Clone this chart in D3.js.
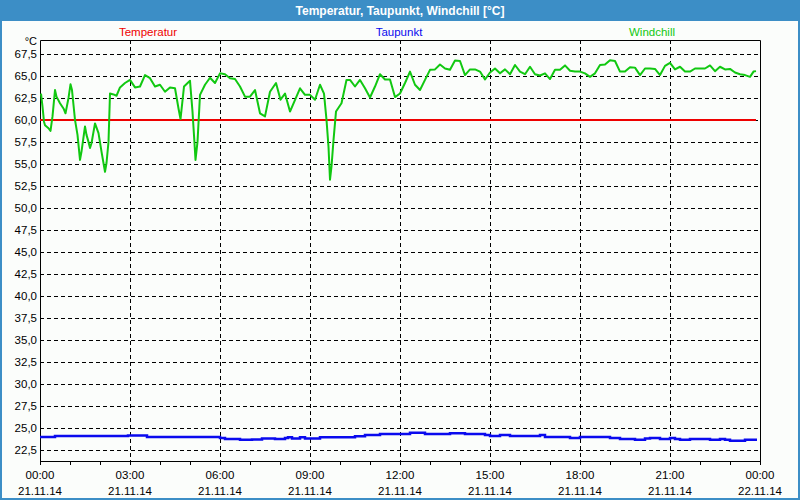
<!DOCTYPE html>
<html><head><meta charset="utf-8">
<script src="https://cdn.jsdelivr.net/npm/d3@7/dist/d3.min.js"></script>
<style>body{margin:0;background:#fff;}svg{display:block;}</style>
</head><body>
<svg id="c" width="800" height="500"></svg>
<script>
const title = "Temperatur, Taupunkt, Windchill [°C]";
const seriesNames = ["Temperatur", "Taupunkt", "Windchill"];
const seriesColors = ["#ee0000", "#0a0aee", "#11c811"];
const yTicks = [22.5,25,27.5,30,32.5,35,37.5,40,42.5,45,47.5,50,52.5,55,57.5,60,62.5,65,67.5];
const xTickHours = [0,3,6,9,12,15,18,21,24];
const xTickTimes = ["00:00","03:00","06:00","09:00","12:00","15:00","18:00","21:00","00:00"];
const xTickDates = ["21.11.14","21.11.14","21.11.14","21.11.14","21.11.14","21.11.14","21.11.14","21.11.14","22.11.14"];

// minutes since 21.11.14 00:00
const tempMinutes = [0, 360, 720, 1080, 1432];
const tempValues  = [60, 60, 60, 60, 60];

const dewMinutes = [0,30,176,214,360,370,400,424,444,470,490,496,504,520,530,560,630,650,680,740,770,820,850,890,900,920,940,1000,1010,1060,1080,1140,1160,1190,1210,1220,1240,1260,1270,1280,1300,1340,1360,1370,1380,1410,1434];
const dewValues  = [23.93,24.05,24.1,23.93,23.8,23.7,23.6,23.65,23.75,23.7,23.8,23.9,23.75,23.9,23.75,23.9,24.0,24.15,24.27,24.4,24.27,24.35,24.27,24.15,24.05,24.15,24.05,24.15,23.93,23.8,23.93,23.8,23.7,23.6,23.75,23.8,23.7,23.8,23.7,23.6,23.7,23.6,23.7,23.6,23.5,23.6,23.6];

const windMinutes = [2,5,8,10,17,21,25,30,33,40,47,51,57,61,64,67,70,75,80,83,90,93,97,100,103,110,117,123,130,133,137,140,147,153,160,170,180,190,200,210,220,230,240,250,260,270,277,281,288,300,305,309,311,315,320,330,340,350,360,370,380,390,400,410,420,430,440,450,460,472,481,490,500,520,530,540,550,560,568,573,577,580,583,587,592,603,613,620,630,640,650,660,670,680,690,700,710,720,730,740,750,760,770,780,790,800,810,820,830,840,850,860,870,880,890,900,910,920,930,940,950,960,970,980,990,1000,1010,1020,1030,1040,1050,1060,1070,1080,1090,1100,1110,1120,1130,1140,1150,1160,1170,1180,1190,1200,1210,1220,1230,1240,1250,1260,1270,1280,1290,1300,1310,1320,1330,1340,1350,1360,1370,1380,1390,1400,1410,1420,1427,1432];
const windValues  = [63.0,61.5,59.8,59.4,59.05,58.75,60.4,63.4,62.65,61.9,61.3,60.75,62.5,64.05,63.4,61.7,60.0,58.3,55.45,56.4,59.25,58.3,57.5,56.8,57.35,59.6,58.5,56.4,54.1,55.1,57.5,63.0,62.9,62.75,63.7,64.2,64.55,63.7,63.8,65.1,64.75,63.8,64.0,63.2,63.7,63.6,61.3,60.1,63.8,64.45,60.95,57.35,55.45,57.5,62.85,64.0,64.8,64.2,65.3,65.2,64.75,64.65,63.8,62.65,62.65,63.4,60.75,60.4,63.2,64.2,62.3,63.0,60.95,63.6,62.85,62.85,62.3,64.0,63.0,60.0,56.95,53.2,54.7,57.7,60.95,61.9,64.55,64.55,63.8,64.55,63.6,62.55,63.8,65.2,64.6,64.6,62.6,63.0,64.2,65.5,64.0,63.4,64.55,65.7,65.75,66.3,65.85,65.7,66.75,66.7,65.1,65.75,65.75,65.5,64.6,65.4,65.85,65.3,65.75,65.2,66.25,65.5,65.2,66.05,65.2,65.05,65.3,64.65,65.7,65.7,66.2,65.6,65.5,65.5,65.3,64.9,65.3,66.25,66.3,66.8,66.7,65.5,65.5,66.0,65.95,65.1,65.85,65.85,65.8,65.1,66.15,66.5,65.75,66.05,65.5,65.5,65.85,65.85,65.85,66.2,65.55,66.05,65.75,65.8,65.4,65.2,65.1,64.9,65.5,65.55];

const svg = d3.select("#c");
const W = 800, H = 500;
const L = 40, R = 760, T = 40, B = 461;
const font = "'Liberation Sans', Arial, sans-serif";

svg.append("rect").attr("width", W).attr("height", H).attr("fill", "#3c8ec6");
svg.append("rect").attr("x", 2).attr("y", 21).attr("width", W - 4).attr("height", H - 23).attr("fill", "#fbfdfb");
svg.append("text").attr("x", 400).attr("y", 15).attr("text-anchor", "middle")
  .attr("fill", "#fff").attr("font-family", font).attr("font-size", 12).attr("font-weight", "bold").text(title);

const x = d3.scaleLinear().domain([0, 1440]).range([L, R]);
const y = d3.scaleLinear().domain([22.5, 67.5]).range([449.5, 54]);

// legend
const legendX = [148, 399, 652];
seriesNames.forEach((n, i) => {
  svg.append("text").attr("x", legendX[i]).attr("y", 36).attr("text-anchor", "middle")
    .attr("fill", seriesColors[i]).attr("font-family", font).attr("font-size", 11.5).text(n);
});

// grid
const g = svg.append("g");
g.selectAll("line.h").data(yTicks).enter().append("line")
  .attr("x1", L).attr("x2", R).attr("y1", d => Math.round(y(d)) + 0.5).attr("y2", d => Math.round(y(d)) + 0.5)
  .attr("stroke", "#000").attr("stroke-dasharray", "4,3").attr("stroke-width", 1);
g.selectAll("line.v").data(xTickHours.slice(1, -1)).enter().append("line")
  .attr("y1", T).attr("y2", B).attr("x1", d => Math.round(x(d * 60)) + 0.5).attr("x2", d => Math.round(x(d * 60)) + 0.5)
  .attr("stroke", "#000").attr("stroke-dasharray", "4,3").attr("stroke-width", 1);

// y labels
svg.selectAll("text.yl").data(yTicks).enter().append("text")
  .attr("x", 37).attr("y", d => y(d) + 4).attr("text-anchor", "end")
  .attr("font-family", font).attr("font-size", 11.5).attr("fill", "#000")
  .text(d => d3.format(".1f")(d).replace(".", ","));
svg.append("text").attr("x", 37).attr("y", 45).attr("text-anchor", "end")
  .attr("font-family", font).attr("font-size", 11).attr("fill", "#000").text("°C");

// x axis ticks (hourly)
const hours = d3.range(0, 25);
svg.selectAll("line.xt").data(hours).enter().append("line")
  .attr("x1", d => Math.round(x(d * 60)) + 0.5).attr("x2", d => Math.round(x(d * 60)) + 0.5)
  .attr("y1", B).attr("y2", B + 4).attr("stroke", "#000");
xTickHours.forEach((h, i) => {
  svg.append("text").attr("x", x(h * 60)).attr("y", 479).attr("text-anchor", "middle")
    .attr("font-family", font).attr("font-size", 11.5).attr("fill", "#000").text(xTickTimes[i]);
  svg.append("text").attr("x", x(h * 60)).attr("y", 495).attr("text-anchor", "middle")
    .attr("font-family", font).attr("font-size", 11.5).attr("fill", "#000").text(xTickDates[i]);
});

// frame
svg.append("path").attr("d", `M${L + 0.5},${T + 0.5}H${R + 0.5}V${B + 0.5}H${L + 0.5}Z`)
  .attr("fill", "none").attr("stroke", "#000").attr("stroke-width", 1);

// series
const line = d3.line().x(d => x(d[0])).y(d => y(d[1]));
const stepLine = d3.line().x(d => x(d[0])).y(d => y(d[1])).curve(d3.curveStepAfter);
svg.append("path").attr("d", line(d3.zip(tempMinutes, tempValues)))
  .attr("fill", "none").attr("stroke", seriesColors[0]).attr("stroke-width", 2);
svg.append("path").attr("d", stepLine(d3.zip(dewMinutes, dewValues)))
  .attr("fill", "none").attr("stroke", seriesColors[1]).attr("stroke-width", 2.5);
svg.append("path").attr("d", line(d3.zip(windMinutes, windValues)))
  .attr("fill", "none").attr("stroke", seriesColors[2]).attr("stroke-width", 2).attr("stroke-linejoin", "round");
</script>
</body></html>
